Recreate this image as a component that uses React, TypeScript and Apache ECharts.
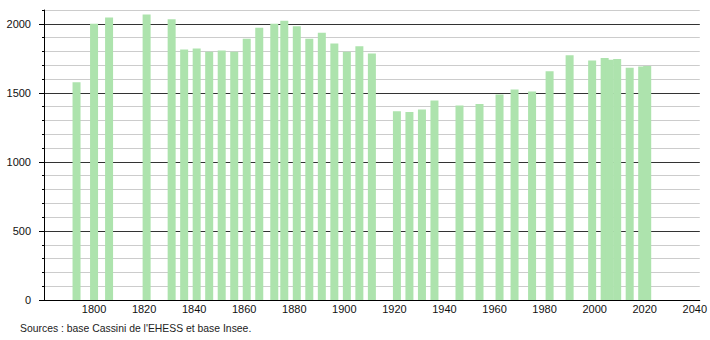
import React, { useEffect, useRef } from "react";
import * as echarts from "echarts";

const years = [
  1793, 1800, 1806, 1821, 1831, 1836, 1841, 1846, 1851, 1856, 1861, 1866, 1872, 1876,
  1881, 1886, 1891, 1896, 1901, 1906, 1911, 1921, 1926, 1931, 1936, 1946, 1954, 1962,
  1968, 1975, 1982, 1990, 1999, 2004, 2006, 2009, 2014, 2019, 2021,
];
const population = [
  1577, 2000, 2045, 2067, 2033, 1814, 1821, 1797, 1806, 1797, 1891, 1971, 2000, 2022,
  1983, 1891, 1935, 1857, 1797, 1838, 1785, 1367, 1362, 1379, 1444, 1408, 1420, 1488,
  1524, 1510, 1657, 1773, 1734, 1753, 1740, 1746, 1681, 1690, 1695,
];
const xTickLabels = [1800, 1820, 1840, 1860, 1880, 1900, 1920, 1940, 1960, 1980, 2000, 2020, 2040];
const yTickLabels = [0, 500, 1000, 1500, 2000];
const sourceText = "Sources : base Cassini de l'EHESS et base Insee.";

export default function App() {
  const ref = useRef<HTMLDivElement>(null);
  useEffect(() => {
    if (!ref.current) return;
    const chart = echarts.init(ref.current, undefined, { renderer: "svg" });
    const font = "'Liberation Sans', Arial, sans-serif";
    chart.setOption({
      animation: false,
      backgroundColor: "#ffffff",
      grid: { left: 44, right: 10, top: 10, bottom: 40, containLabel: false },
      xAxis: {
        type: "value",
        min: 1780,
        max: 2042,
        interval: 20,
        axisLine: { show: true, lineStyle: { color: "#000", width: 1 } },
        axisTick: { show: false },
        splitLine: { show: false },
        axisLabel: {
          customValues: xTickLabels,
          formatter: (v: number) => String(v),
          color: "#111",
          fontSize: 11,
          fontFamily: font,
          margin: 3,
        },
      },
      yAxis: [
        {
          type: "value",
          min: 0,
          max: 2100,
          interval: 100,
          axisLine: { show: true, onZero: false, lineStyle: { color: "#000", width: 1 } },
          axisTick: { show: true, length: 2, lineStyle: { color: "#000" } },
          splitLine: { show: true, lineStyle: { color: "#cccccc", width: 1 } },
          axisLabel: { show: false },
        },
        {
          type: "value",
          min: 0,
          max: 2100,
          interval: 100,
          position: "left",
          axisLine: { show: false },
          axisTick: { show: true, customValues: yTickLabels, length: 5, lineStyle: { color: "#000" } },
          splitLine: { show: true, lineStyle: { color: "#333333", width: 1 } },
          axisLabel: {
            customValues: yTickLabels,
            formatter: (v: number) => String(v),
            color: "#111",
            fontSize: 11,
            fontFamily: font,
            margin: 13,
          },
        },
      ],
      series: [
        {
          type: "bar",
          yAxisIndex: 0,
          barWidth: 8,
          itemStyle: { color: "#ade3ad" },
          data: years.map((y, i) => [y, population[i]]),
        },
      ],
      graphic: [
        {
          type: "text",
          left: 20,
          top: 323,
          style: { text: sourceText, fill: "#222", fontSize: 10.4, fontFamily: font },
        },
      ],
    });
    return () => chart.dispose();
  }, []);
  return (
    <div
      ref={ref}
      style={{ position: "absolute", left: 0, top: 0, width: 710, height: 340 }}
    />
  );
}
